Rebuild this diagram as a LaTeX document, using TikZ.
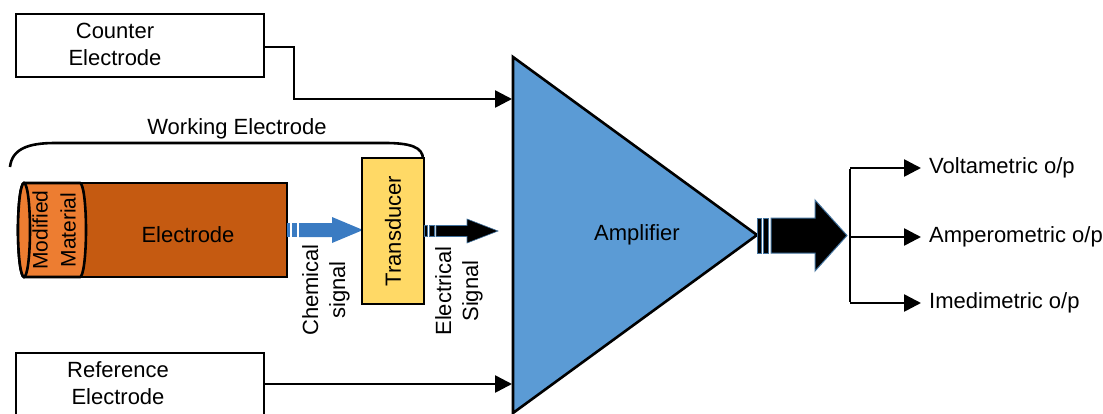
\documentclass[tikz,border=0pt]{standalone}
\usepackage{fontspec}
\setmainfont{Liberation Sans}
\usetikzlibrary{arrows.meta,calc}
\definecolor{ampblue}{HTML}{5B9BD5}
\definecolor{chemblue}{HTML}{3A7BC2}
\definecolor{edgeblue}{HTML}{41719C}
\definecolor{elecorange}{HTML}{C55A11}
\definecolor{modorange}{HTML}{ED7D31}
\definecolor{transyellow}{HTML}{FFD966}
\tikzset{
  box/.style={draw, line width=2.6pt, fill=white, inner sep=0pt},
  lbl/.style={align=center, inner sep=0pt, font=\fontsize{22}{27}\selectfont},
  conn/.style={line width=2.6pt, -{Triangle[length=17pt,width=17pt]}},
  outline/.style={line width=2.6pt},
}
\begin{document}
\begin{tikzpicture}[x=1pt,y=-1pt]
\useasboundingbox (0,0) rectangle (1103,413);
\clip (0,0) rectangle (1103,413);

% Counter electrode
\node[box, minimum width=248pt, minimum height=63pt] (ce) at (140,45.5) {};
\node[lbl] (cet) at (115,44) {Counter\\Electrode};
% Reference electrode
\node[box, minimum width=248pt, minimum height=80pt] (re) at (140,393) {};
\node[lbl] (ret) at (118,383) {Reference\\Electrode};

% Amplifier
\coordinate (atop) at (513,57);
\coordinate (atip) at (757,235);
\coordinate (abot) at (513,413);
\draw[outline, fill=ampblue, line join=miter] (atop) -- (atip) -- (abot) -- cycle;
\node[lbl] (amp) at (637,235) {Amplifier};

\coordinate (in1) at (512,99);
\coordinate (in2) at (512,384);
\draw[conn] (ce.east |- 0,47) -- (294,47) |- (in1);
\draw[conn] (re.east |- in2) -- (in2);

% Working electrode bracket
\draw[line width=2.6pt] (10,167) .. controls (12,149) and (28,143) .. (55,143) -- (385,143) .. controls (410,143) and (423,147) .. (423,159);
\node[lbl] (we) at (237,129) {Working Electrode};

% Electrode body
\draw[outline, fill=elecorange] (80,183) rectangle (287,277);
\node[lbl] (el) at (188,235) {Electrode};
% Modified material (cylinder)
\draw[outline, fill=modorange] (24,183) -- (80,183)
  arc[start angle=90, end angle=-90, x radius=6pt, y radius=47pt]
  -- (24,277)
  arc[start angle=270, end angle=90, x radius=6pt, y radius=47pt] -- cycle;
\draw[outline, fill=modorange] (24,230) ellipse [x radius=6pt, y radius=47pt];
\node[lbl, rotate=90, font=\fontsize{21}{28}\selectfont] (mm) at (54,230) {Modified\\Material};

% Chemical signal arrow
\fill[chemblue] (287,223) rectangle (290,237);
\fill[chemblue] (292,223) rectangle (297,237);
\fill[chemblue] (299,223) -- (332,223) -- (332,217) -- (363,230) -- (332,243) -- (332,237) -- (299,237) -- cycle;
\node[lbl, rotate=90] (chem) at (326,290) {Chemical\\signal};

% Transducer
\node[draw, line width=2.6pt, fill=transyellow, rotate=90, minimum width=146pt, minimum height=62pt, inner sep=0pt, font=\fontsize{22}{27}\selectfont] (tr) at (393,231) {Transducer};

% Electrical signal arrow
\draw[edgeblue, line width=0.8pt, fill=black] (424,225.5) rectangle (427,236.5);
\draw[edgeblue, line width=0.8pt, fill=black] (429,225.5) rectangle (434,236.5);
\draw[edgeblue, line width=0.6pt, fill=black] (436,225.5) -- (467,225.5) -- (467,219) -- (498,231) -- (467,243) -- (467,236.5) -- (436,236.5) -- cycle;
\node[lbl, rotate=90] (elsig) at (459,291) {Electrical\\Signal};

% Output big arrow
\draw[edgeblue, line width=1pt, fill=black] (757.5,218) rectangle (761,253);
\draw[edgeblue, line width=1pt, fill=black] (763,218) rectangle (768.5,253);
\draw[edgeblue, line width=1pt, fill=black] (771,218) -- (815,218) -- (815,200) -- (847,235.5) -- (815,271) -- (815,253) -- (771,253) -- cycle;

% Outputs
\node[lbl, anchor=west] (vo) at (929,168) {Voltametric o/p};
\node[lbl, anchor=west] (ao) at (929,237) {Amperometric o/p};
\node[lbl, anchor=west] (io) at (929,303) {Imedimetric o/p};
\coordinate (bt) at (850,168);
\coordinate (bb) at (850,303);
\draw[line width=2.6pt] ([yshift=-1.3pt]bt) -- ([yshift=1.3pt]bb);
\draw[conn] (bt) -- ([xshift=-8pt]vo.west);
\draw[conn] (bt |- ao.west) -- ([xshift=-8pt]ao.west);
\draw[conn] (bb) -- ([xshift=-8pt]io.west);
\end{tikzpicture}
\end{document}
